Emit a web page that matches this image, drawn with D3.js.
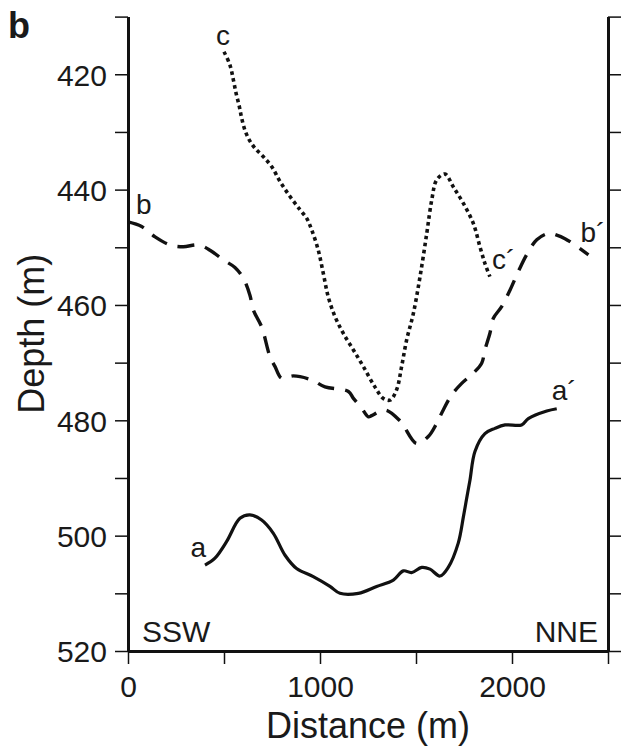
<!DOCTYPE html>
<html>
<head>
<meta charset="utf-8">
<script src="https://cdn.jsdelivr.net/npm/d3@7"></script>
<style>
  body { margin: 0; background: #fff; }
  text { font-family: "Liberation Sans", Arial, Helvetica, sans-serif; fill: #1a1a1a; }
</style>
</head>
<body>
<div id="chart"></div>
<script>
// profile a-a' (solid)
const aDist = [401, 453, 514, 583, 635, 696, 757, 818, 878, 965, 1052, 1104, 1200, 1295, 1382, 1434, 1477, 1530, 1573, 1625, 1668, 1720, 1747, 1764, 1781, 1807, 1859, 1911, 1964, 2050, 2085, 2181, 2233];
const aDepth = [505.1, 503.9, 501.0, 497.0, 496.4, 497.3, 499.6, 503.4, 505.7, 507.1, 508.8, 510, 510, 508.8, 507.7, 506.1, 506.4, 505.5, 505.8, 507.0, 505.5, 501.3, 496.7, 493.5, 490.4, 485.4, 482.3, 481.4, 480.8, 480.8, 479.7, 478.4, 478.0];

// profile b-b' (dashed)
const bDist = [0, 71, 141, 219, 288, 366, 427, 497, 557, 601, 635, 653, 696, 740, 766, 800, 861, 957, 1026, 1148, 1174, 1217, 1252, 1269, 1339, 1417, 1503, 1564, 1608, 1642, 1686, 1738, 1799, 1842, 1859, 1885, 1903, 1946, 1990, 2033, 2076, 2129, 2189, 2233, 2276, 2328, 2398];
const bDepth = [445.6, 446.4, 448.2, 449.6, 449.9, 449.6, 450.5, 452.2, 453.5, 455.4, 458.3, 460.9, 463.8, 469, 470.7, 472.7, 472.3, 473.0, 474.2, 475.0, 476.2, 477.9, 479.4, 479.2, 478.2, 480.1, 484.0, 482.8, 480.5, 478.2, 475.6, 473.6, 471.8, 470.1, 467.8, 464.9, 462.3, 460.3, 457.4, 454.2, 451.3, 448.7, 447.6, 447.9, 448.5, 449.6, 451.3];

// profile c-c' (dotted)
const cDist = [500, 531, 549, 563, 580, 592, 609, 632, 661, 705, 748, 792, 844, 896, 931, 957, 991, 1017, 1043, 1078, 1121, 1174, 1226, 1286, 1330, 1365, 1399, 1425, 1451, 1486, 1521, 1556, 1582, 1608, 1651, 1694, 1747, 1799, 1833, 1859, 1885];
const cDepth = [416.1, 418.4, 421.0, 423.3, 425.6, 427.6, 429.7, 431.4, 432.8, 434.3, 436.0, 438.6, 441.2, 443.5, 445.0, 447.0, 450.5, 454.5, 458.6, 462.0, 464.9, 467.8, 470.7, 474.2, 476.2, 476.5, 474.7, 470.7, 466.1, 461.5, 455.1, 447.6, 441.8, 438.3, 437.3, 439.5, 442.4, 445.9, 449.9, 452.8, 455.1];

const xTicks = [0, 500, 1000, 1500, 2000, 2500];
const xLabels = [0, 1000, 2000];
const yTicks = [410, 420, 430, 440, 450, 460, 470, 480, 490, 500, 510, 520];
const yLabels = [420, 440, 460, 480, 500, 520];

const width = 621, height = 749;
const plotLeft = 128, plotRight = 608, plotTop = 16.6, plotBottom = 651;

const svg = d3.select('#chart')
  .append('svg')
  .attr('width', width)
  .attr('height', height);

const x = d3.scaleLinear().domain([0, 2500]).range([plotLeft, plotRight]);
const y = d3.scaleLinear().domain([410, 520]).range([plotTop, plotBottom]);

// axes
function styleAxis(g) {
  g.select('.domain').attr('stroke', '#111').attr('stroke-width', 3);
  g.selectAll('.tick line').attr('stroke', '#111').attr('stroke-width', 1.5);
  g.selectAll('.tick text').attr('font-size', 30).attr('fill', '#1a1a1a')
    .style('font-family', '"Liberation Sans", Arial, sans-serif');
}

svg.append('g')
  .attr('transform', `translate(${plotLeft},0)`)
  .call(d3.axisLeft(y).tickValues(yTicks).tickSize(13).tickSizeOuter(0).tickPadding(8)
    .tickFormat(d => yLabels.includes(d) ? d : ''))
  .call(styleAxis)
  .selectAll('.tick text').attr('dy', '0.36em');

svg.append('g')
  .attr('transform', `translate(${plotRight},0)`)
  .call(d3.axisRight(y).tickValues(yTicks).tickSize(13).tickSizeOuter(0).tickFormat(''))
  .call(styleAxis);

svg.append('g')
  .attr('transform', `translate(0,${plotBottom})`)
  .call(d3.axisBottom(x).tickValues(xTicks).tickSize(13).tickSizeOuter(0).tickPadding(12)
    .tickFormat(d => xLabels.includes(d) ? d : ''))
  .call(styleAxis);

// axis titles
svg.append('text')
  .attr('x', (plotLeft + plotRight) / 2)
  .attr('y', 738)
  .attr('text-anchor', 'middle')
  .attr('font-size', 36)
  .text('Distance (m)');

svg.append('text')
  .attr('transform', `translate(44,${(plotTop + plotBottom) / 2}) rotate(-90)`)
  .attr('text-anchor', 'middle')
  .attr('font-size', 36)
  .text('Depth (m)');

svg.append('text')
  .attr('x', 8).attr('y', 38)
  .attr('font-size', 36)
  .attr('font-weight', 'bold')
  .text('b');

svg.append('text')
  .attr('x', 142).attr('y', 642)
  .attr('font-size', 30)
  .text('SSW');

svg.append('text')
  .attr('x', 598).attr('y', 642)
  .attr('text-anchor', 'end')
  .attr('font-size', 30)
  .text('NNE');

// profiles
const line = d3.line()
  .x(d => x(d[0]))
  .y(d => y(d[1]))
  .curve(d3.curveCatmullRom.alpha(0.5));

const profiles = [
  { dist: aDist, depth: aDepth, dash: null, sw: 3.2, start: 'a', end: 'a´', so: [1, -8, 'end'], eo: [-5, -9, 'start'] },
  { dist: bDist, depth: bDepth, dash: '17,11', sw: 3.4, start: 'b', end: 'b´', so: [8, -8, 'start'], eo: [-8, -13, 'start'] },
  { dist: cDist, depth: cDepth, dash: '3.6,3.4', sw: 3.6, start: 'c', end: 'c´', so: [-8, -7, 'start'], eo: [2, -8, 'start'] }
];

profiles.forEach(p => {
  const pts = p.dist.map((d, i) => [d, p.depth[i]]);
  svg.append('path')
    .datum(pts)
    .attr('d', line)
    .attr('fill', 'none')
    .attr('stroke', '#111')
    .attr('stroke-width', p.sw)
    .attr('stroke-dasharray', p.dash);

  const s = pts[0], e = pts[pts.length - 1];
  svg.append('text')
    .attr('x', x(s[0]) + p.so[0]).attr('y', y(s[1]) + p.so[1])
    .attr('text-anchor', p.so[2])
    .attr('font-size', 28)
    .text(p.start);
  svg.append('text')
    .attr('x', x(e[0]) + p.eo[0]).attr('y', y(e[1]) + p.eo[1])
    .attr('text-anchor', p.eo[2])
    .attr('font-size', 28)
    .text(p.end);
});
</script>
</body>
</html>
